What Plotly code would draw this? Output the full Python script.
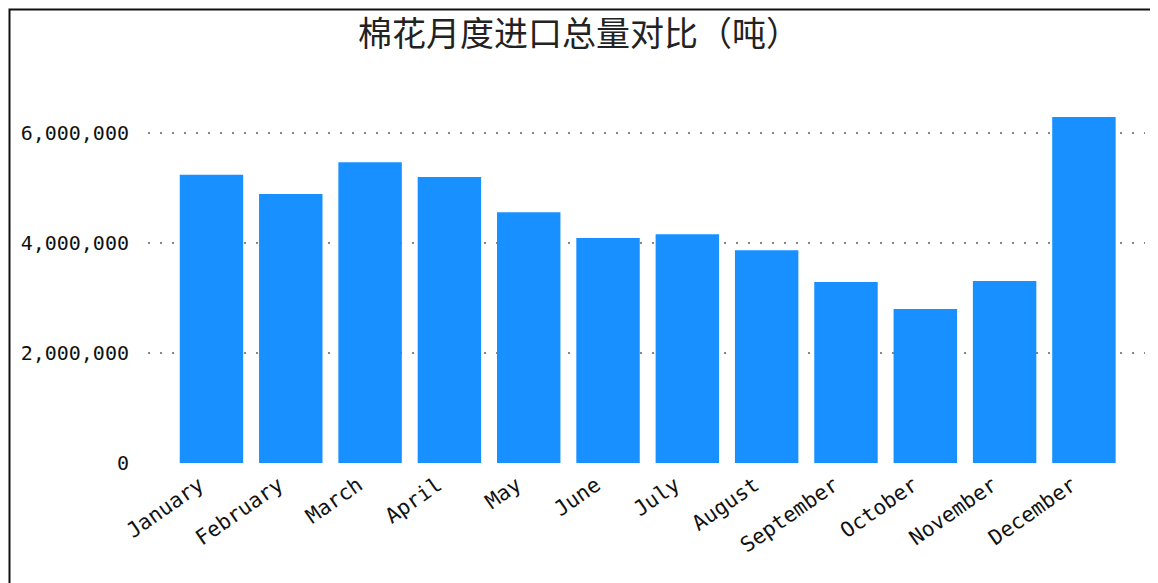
import plotly.graph_objects as go

months = ["January", "February", "March", "April", "May", "June", "July",
          "August", "September", "October", "November", "December"]
imports_t = [5240000, 4890000, 5470000, 5200000, 4560000, 4090000, 4160000,
             3870000, 3290000, 2800000, 3310000, 6290000]
title_text = "棉花月度进口总量对比（吨）"

OFF = 8  # page body margin
W, H = 1158 - 2 * OFF, 583 - OFF
ML, MR, MT = 148 - OFF, 1158 - OFF - 1145, 89 - OFF
MB = H - (463 - OFF)
pw, ph = W - ML - MR, H - MT - MB

def px_x(p):
    return (p - OFF - ML) / pw

def px_y(p):
    return (H - MB - (p - OFF)) / ph

fig = go.Figure(go.Bar(x=months, y=imports_t, marker_color="#1890ff",
                       marker_line_width=0))

fig.update_layout(
    width=W, height=H,
    margin=dict(l=ML, r=MR, t=MT, b=MB),
    paper_bgcolor="white", plot_bgcolor="white",
    bargap=0.2,
    showlegend=False,
    title=dict(text=title_text, x=0.5, xanchor="center", y=1 - (34 - OFF) / H, yanchor="middle",
               font=dict(family="Noto Sans CJK SC", size=34, color="#222")),
    font=dict(family="DejaVu Sans Mono", size=20, color="#111"),
    shapes=[dict(type="rect", xref="paper", yref="paper",
                 x0=px_x(9.5), x1=px_x(1153.5), y0=px_y(600), y1=px_y(9.5),
                 line=dict(color="#111", width=2), fillcolor="rgba(0,0,0,0)", layer="below")],
)
fig.update_xaxes(range=[-0.8, 11.77], tickangle=-35, showgrid=False, showline=False,
                 ticks="", tickfont=dict(size=21), ticklabelshift=-12, ticklabelstandoff=5)
fig.update_yaxes(range=[0, 6800000], tickvals=[0, 2000000, 4000000, 6000000],
                 ticktext=["0", "2,000,000", "4,000,000", "6,000,000"],
                 showgrid=True, gridcolor="#888", griddash="2px,10px", gridwidth=2,
                 zeroline=False, showline=False, ticks="", ticklabelstandoff=18,
                 tickfont=dict(size=20))

fig.write_html("out.html")
